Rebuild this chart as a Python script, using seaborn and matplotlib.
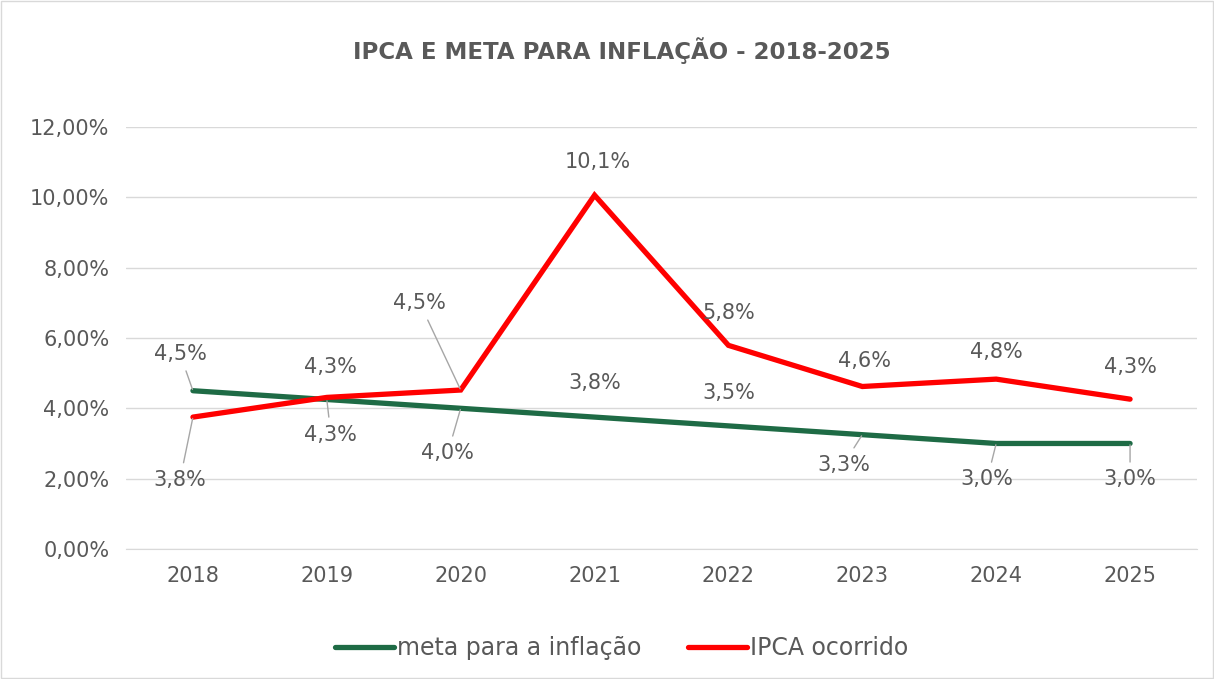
# IPCA e meta para inflação - line chart

import pandas as pd
from matplotlib import pyplot as plt
from matplotlib.patches import Rectangle
import seaborn as sns

years = [2018, 2019, 2020, 2021, 2022, 2023, 2024, 2025]
meta = [4.50, 4.25, 4.00, 3.75, 3.50, 3.25, 3.00, 3.00]
ipca = [3.75, 4.31, 4.52, 10.06, 5.79, 4.62, 4.83, 4.26]
series_names = ['meta para a inflação', 'IPCA ocorrido']
title = 'IPCA E META PARA INFLAÇÃO - 2018-2025'

# label offsets (pixels) and whether a leader line is drawn
meta_offsets = [(-13, 37), (4, -35), (-13, -45), (0, 34), (0, 33), (-19, -30), (-9, -36), (0, -36)]
meta_leader = [True, True, True, False, False, True, True, True]
ipca_offsets = [(-13, -63), (4, 30), (-41, 87), (3, 33), (0, 32), (2, 26), (0, 27), (0, 32)]
ipca_leader = [True, False, True, False, False, False, False, False]

TXT = '#595959'
GRID = '#d9d9d9'


def fmt_pct(v, dec):
    # round half up, like the spreadsheet does
    return f'{v + 1e-9:.{dec}f}%'.replace('.', ',')


def label_points(ax, xs, ys, offsets, leaders):
    for x, y, (dx, dy), lead in zip(xs, ys, offsets, leaders):
        arrow = None
        if lead:
            arrow = dict(arrowstyle='-', color='#a6a6a6', lw=1, shrinkA=3, shrinkB=1)
        ax.annotate(fmt_pct(y, 1), xy=(x, y), xytext=(dx, dy), textcoords='offset pixels',
                    ha='center', va='center', fontsize=15, color=TXT, arrowprops=arrow)


if __name__ == '__main__':

    df = pd.DataFrame({'ano': years * 2,
                       'valor': meta + ipca,
                       'serie': [series_names[0]] * len(years) + [series_names[1]] * len(years)})

    sns.set_style('white')
    plt.rcParams['font.family'] = ['DejaVu Sans']

    fig = plt.figure(figsize=(12.14, 6.79), dpi=100)
    ax = fig.add_axes([0.1038, 0.1915, 0.8822, 0.6215])

    sns.lineplot(data=df, x='ano', y='valor', hue='serie', ax=ax,
                 palette=['#1e6b45', '#ff0000'], linewidth=3.8, legend=True)
    for line in ax.get_lines():
        line.set_solid_capstyle('round')
        line.set_solid_joinstyle('miter')

    ax.set_xlim(2017.5, 2025.5)
    ax.set_ylim(0, 12)
    ax.set_yticks(range(0, 13, 2))
    ax.set_yticklabels([fmt_pct(v, 2) for v in range(0, 13, 2)])
    ax.set_xticks(years)
    ax.set_xticklabels([str(y) for y in years])
    ax.tick_params(axis='both', length=0, labelsize=15, labelcolor=TXT, pad=12)
    ax.grid(axis='y', color=GRID, lw=1)
    ax.set_axisbelow(True)
    for s in ['top', 'right', 'left']:
        ax.spines[s].set_visible(False)
    ax.spines['bottom'].set_color(GRID)
    ax.set_xlabel('')
    ax.set_ylabel('')

    label_points(ax, years, meta, meta_offsets, meta_leader)
    label_points(ax, years, ipca, ipca_offsets, ipca_leader)

    handles, labels = ax.get_legend_handles_labels()
    ax.legend(handles, labels, loc='center', bbox_to_anchor=(0.512, 0.046),
              bbox_transform=fig.transFigure, ncol=2, frameon=False,
              fontsize=17, labelcolor=TXT, handlelength=2.5, handletextpad=0.1,
              columnspacing=2.0)

    fig.text(0.512, 0.926, title, ha='center', va='center', fontsize=16.5,
             fontweight='bold', color=TXT)
    fig.patches.append(Rectangle((0.001, 0.001), 0.998, 0.998, transform=fig.transFigure,
                                 fill=False, edgecolor=GRID, lw=1))

    plt.savefig('out.png', dpi=100)
